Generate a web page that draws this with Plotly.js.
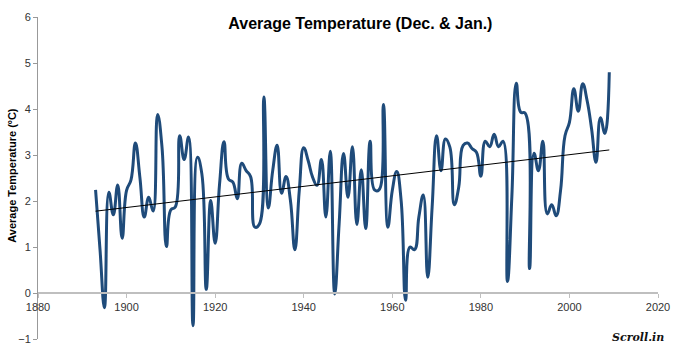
<!DOCTYPE html>
<html>
<head>
<meta charset="utf-8">
<script src="https://cdn.plot.ly/plotly-3.0.1.min.js"></script>
<style>html,body{margin:0;padding:0;background:#fff;}#chart{width:680px;height:350px;}</style>
</head>
<body>
<div id="chart"></div>
<script>
const firstYear = 1893;
const temps = [
  2.24, 0.95, -0.32, 2.19, 1.70, 2.35, 1.19, 2.23, 2.46, 3.26,
  2.52, 1.65, 2.08, 1.78, 3.88, 3.17, 1.01, 1.81, 1.87, 3.42,
  2.90, 3.39, -0.71, 2.95, 2.59, 0.08, 2.01, 1.08, 2.37, 3.29,
  2.48, 2.41, 2.05, 2.82, 2.66, 2.53, 1.43, 1.50, 4.26, 1.85,
  2.66, 3.21, 2.17, 2.53, 2.01, 0.94, 2.23, 3.16, 2.88, 2.52,
  2.34, 2.90, 1.65, 3.08, -0.02, 1.51, 3.03, 2.08, 3.18, 1.49,
  2.68, 1.40, 3.30, 2.24, 2.24, 4.10, 1.43, 2.23, 2.64, 2.01,
  -0.16, 1.00, 0.94, 1.65, 2.13, 0.34, 1.87, 3.42, 2.66, 3.35,
  3.17, 1.92, 2.30, 3.21, 3.26, 3.14, 3.06, 2.54, 3.30, 3.18,
  3.45, 3.18, 3.30, 0.25, 2.10, 4.56, 3.93, 3.91, 0.53, 3.04,
  2.66, 3.30, 1.72, 1.92, 1.68, 2.23, 3.42, 3.71, 4.44, 3.95,
  4.55, 4.18, 3.57, 2.84, 3.81, 3.47, 4.80
];
const years = temps.map((_, i) => firstYear + i);
const xTicks = [1880, 1900, 1920, 1940, 1960, 1980, 2000, 2020];
const yTicks = [-1, 0, 1, 2, 3, 4, 5, 6];
const chartTitle = 'Average Temperature (Dec. & Jan.)';
const yTitle = 'Average Temperature (ºC)';
const brand = 'Scroll.in';

// least-squares linear trend
const n = years.length;
const mx = years.reduce((a, b) => a + b, 0) / n;
const my = temps.reduce((a, b) => a + b, 0) / n;
let sxy = 0, sxx = 0;
for (let i = 0; i < n; i++) { sxy += (years[i] - mx) * (temps[i] - my); sxx += (years[i] - mx) ** 2; }
const slope = sxy / sxx, icpt = my - slope * mx;
const trendX = [years[0], years[n - 1]];
const trendY = trendX.map(x => icpt + slope * x);

const font = 'Liberation Sans, Arial, sans-serif';
const data = [
  {x: years, y: temps, type: 'scatter', mode: 'lines',
   line: {color: '#1f4b7a', width: 3, shape: 'spline', smoothing: 1.3}, hoverinfo: 'skip'},
  {x: trendX, y: trendY, type: 'scatter', mode: 'lines',
   line: {color: '#000000', width: 1}, hoverinfo: 'skip'}
];
const layout = {
  width: 680, height: 350,
  margin: {l: 38, r: 22, t: 17, b: 11},
  paper_bgcolor: '#ffffff', plot_bgcolor: '#ffffff',
  showlegend: false,
  font: {family: font, size: 11, color: '#333333'},
  title: {text: '<b>' + chartTitle + '</b>', font: {family: font, size: 16, color: '#000000'},
          x: 0.52, xref: 'paper', xanchor: 'center', y: 1 - 23 / 350, yref: 'container', yanchor: 'middle'},
  xaxis: {range: [1880, 2020], tickvals: xTicks, ticktext: xTicks.map(String),
          showgrid: false, zeroline: false, showline: true, linecolor: '#bfbfbf', linewidth: 2,
          ticks: 'outside', ticklen: 4, tickcolor: '#bfbfbf', tickwidth: 1,
          anchor: 'free', position: 1 / 7, tickfont: {size: 11, color: '#333333'}},
  yaxis: {range: [-1, 6], tickvals: yTicks, showgrid: false, zeroline: false,
          showline: true, linecolor: '#999999', linewidth: 1,
          ticks: 'outside', ticklen: 4, tickcolor: '#999999',
          tickfont: {size: 11, color: '#333333'}, automargin: false},
  annotations: [
    {text: '<b>' + yTitle + '</b>', xref: 'paper', yref: 'paper', x: -0.042, y: 0.51,
     xanchor: 'center', yanchor: 'middle', textangle: -90, showarrow: false,
     font: {family: font, size: 11, color: '#000000'}},
    {text: '<b><i>' + brand + '</i></b>', xref: 'paper', yref: 'paper', x: 1.013, y: 0.006,
     xanchor: 'right', yanchor: 'middle', showarrow: false,
     font: {family: 'DejaVu Serif, serif', size: 11, color: '#111111'}}
  ]
};
Plotly.newPlot('chart', data, layout, {displayModeBar: false, staticPlot: true});
</script>
</body>
</html>
